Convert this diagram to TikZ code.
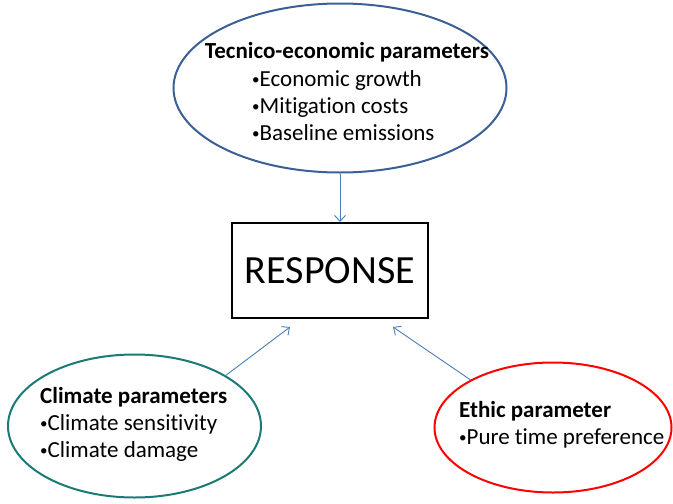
\documentclass[tikz,border=0pt]{standalone}
\usepackage{fontspec}
\setmainfont{Carlito}[Ligatures=NoCommon]
\usetikzlibrary{shapes.geometric,arrows.meta}
\definecolor{techblue}{HTML}{3B6096}
\definecolor{climteal}{HTML}{1B7B74}
\definecolor{arrowblue}{HTML}{4A7EBB}
\newcommand\bul{{\fontsize{15}{15}\selectfont\raisebox{1.2pt}{•}}}
\tikzset{
  param/.style={ellipse,draw,line width=2pt,inner sep=0pt},
  item/.style={anchor=base west,inner sep=0pt,font=\fontsize{23}{27}\selectfont},
  head/.style={item,font=\fontsize{23}{27}\selectfont\bfseries},
  conn/.style={arrowblue,line width=0.9pt,-{Straight Barb[length=6pt,width=11pt]}}
}

\begin{document}
\begin{tikzpicture}[x=1pt,y=-1pt]
\useasboundingbox (0,0) rectangle (673,504);
% the three groups of parameters
\node[param,techblue,minimum width=333,minimum height=169] (tech) at (340,88) {};
\node[param,climteal,minimum width=253,minimum height=143] (clim) at (134.5,426) {};
\node[param,red,minimum width=237,minimum height=130] (ethic) at (553,427.5) {};
% the response box
\node[draw,line width=2pt,minimum width=196,minimum height=95,inner sep=0pt,
  font=\fontsize{40}{44}\selectfont] (resp) at (330,270.5) {RESPONSE};
% texts
\node[head,anchor=base] (techhead) at (347,58) {Tecnico-economic parameters};
\node[item] (tech1) at (252,86) {\bul Economic growth};
\node[item] (tech2) at (252,113) {\bul Mitigation costs};
\node[item] (tech3) at (252,140) {\bul Baseline emissions};
\node[head] (climhead) at (40,403) {Climate parameters};
\node[item] (clim1) at (40,430) {\bul Climate sensitivity};
\node[item] (clim2) at (40,457) {\bul Climate damage};
\node[head] (ethichead) at (459,417) {Ethic parameter};
\node[item] (ethic1) at (459,444) {\bul Pure time preference};
% arrows
\coordinate (climend) at (290,327);
\coordinate (ethicend) at (393,327);
\draw[conn] (tech.south) -- (tech.south |- resp.north);
\draw[conn] (clim.29) -- (climend);
\draw[conn] (ethic.150) -- (ethicend);
\end{tikzpicture}
\end{document}
